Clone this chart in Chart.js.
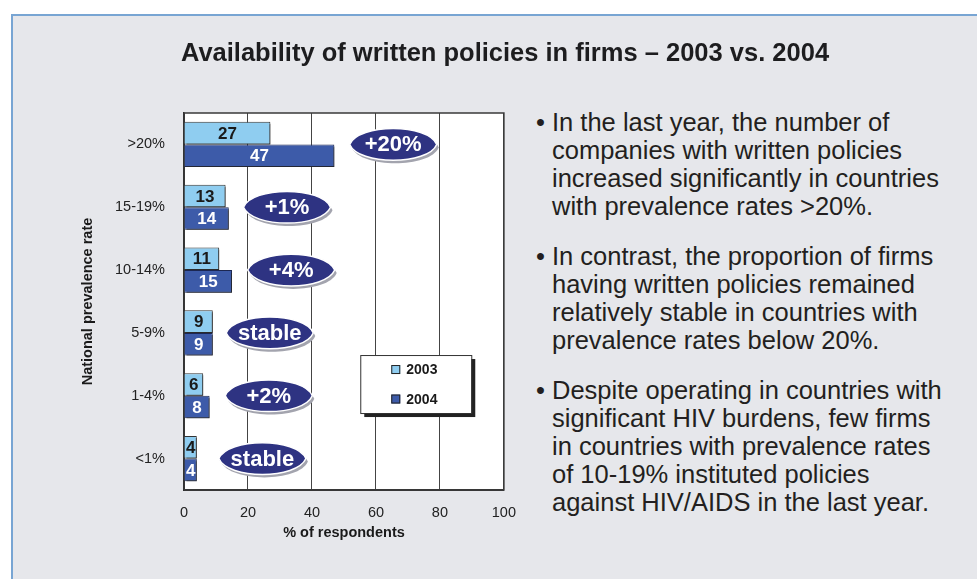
<!DOCTYPE html>
<html>
<head>
<meta charset="utf-8">
<script src="https://cdn.jsdelivr.net/npm/chart.js@4"></script>
<style>
  html, body { margin: 0; padding: 0; background: #fff; }
  body { width: 977px; height: 579px; position: relative; overflow: hidden; font-family: "Liberation Sans", Arial, sans-serif; }
  #panel { position: absolute; left: 11px; top: 14px; right: 0; bottom: 0; background: #e6e7eb; border-left: 2px solid #78a5d3; border-top: 2px solid #78a5d3; }
  #chart { position: absolute; left: 0; top: 0; }
  #title { position: absolute; left: 0; width: 1010px; top: 37px; text-align: center; font-weight: bold; font-size: 25.5px; line-height: 30px; color: #1d1d1f; white-space: nowrap; }
  #notes { position: absolute; left: 552px; top: 108px; font-size: 25.5px; line-height: 28px; color: #231f20; white-space: nowrap; }
  #notes p { margin: 0 0 22px 0; position: relative; }
  #notes p:before { content: "\2022"; position: absolute; left: -16px; }
</style>
</head>
<body>
<div id="panel"></div>
<canvas id="chart" width="530" height="579"></canvas>
<div id="title">Availability of written policies in firms – 2003 vs. 2004</div>
<div id="notes">
  <p>In the last year, the number of<br>companies with written policies<br>increased significantly in countries<br>with prevalence rates &gt;20%.</p>
  <p>In contrast, the proportion of firms<br>having written policies remained<br>relatively stable in countries with<br>prevalence rates below 20%.</p>
  <p>Despite operating in countries with<br>significant HIV burdens, few firms<br>in countries with prevalence rates<br>of 10-19% instituted policies<br>against HIV/AIDS in the last year.</p>
</div>
<script>
const categories = ['>20%', '15-19%', '10-14%', '5-9%', '1-4%', '<1%'];
const values2003 = [27, 13, 11, 9, 6, 4];
const values2004 = [47, 14, 15, 9, 8, 4];
const seriesNames = ['2003', '2004'];
const changeLabels = ['+20%', '+1%', '+4%', 'stable', '+2%', 'stable'];
// where each change bubble sits along the x axis (% units)
const bubbleAt = [65.4, 32.2, 33.5, 26.8, 26.5, 24.5];

const FONT = '"Liberation Sans", Arial, sans-serif';
const colors = { light: '#8fcdf0', dark: '#3d5ba9', navy: '#2e3382' };
Chart.defaults.font.family = FONT;

function lens(ctx, cx, cy, w, h) {
  const l = cx - w / 2, r = cx + w / 2, k = h * 0.68;
  ctx.beginPath();
  ctx.moveTo(l, cy);
  ctx.bezierCurveTo(l + w * 0.1, cy - k, r - w * 0.1, cy - k, r, cy);
  ctx.bezierCurveTo(r - w * 0.1, cy + k, l + w * 0.1, cy + k, l, cy);
  ctx.closePath();
}

const plotFrame = {
  id: 'plotFrame',
  beforeDraw(chart) {
    const { ctx, chartArea: a } = chart;
    ctx.save();
    ctx.fillStyle = '#fff';
    ctx.fillRect(a.left, a.top, a.right - a.left, a.bottom - a.top);
    ctx.restore();
  },
  beforeDatasetsDraw(chart) {
    const { ctx, chartArea: a } = chart;
    ctx.save();
    ctx.strokeStyle = '#3a3a3a';
    ctx.lineWidth = 1.5;
    ctx.strokeRect(a.left, a.top, a.right - a.left, a.bottom - a.top);
    ctx.restore();
  }
};

// small drop shadow under the bars, like the old 3-D office chart
const barShadow = {
  id: 'barShadow',
  beforeDatasetsDraw(chart) {
    const ctx = chart.ctx;
    ctx.save();
    ctx.shadowColor = 'rgba(40,40,40,0.7)';
    ctx.shadowOffsetX = 2;
    ctx.shadowOffsetY = 2;
    ctx.shadowBlur = 0;
  },
  afterDatasetsDraw(chart) {
    chart.ctx.restore();
  }
};

const barLabels = {
  id: 'barLabels',
  afterDatasetsDraw(chart) {
    const { ctx } = chart;
    ctx.save();
    ctx.font = 'bold 17px ' + FONT;
    ctx.textAlign = 'center';
    ctx.textBaseline = 'middle';
    chart.data.datasets.forEach((ds, i) => {
      ctx.fillStyle = i === 0 ? '#1a1a1a' : '#ffffff';
      chart.getDatasetMeta(i).data.forEach((bar, j) => {
        ctx.fillText(String(ds.data[j]), (bar.base + bar.x) / 2, bar.y + 1);
      });
    });
    ctx.restore();
  }
};

const bubbles = {
  id: 'bubbles',
  afterDatasetsDraw(chart) {
    const { ctx, scales } = chart;
    ctx.save();
    changeLabels.forEach((txt, j) => {
      const cx = scales.x.getPixelForValue(bubbleAt[j]);
      const cy = scales.y.getPixelForValue(j);
      lens(ctx, cx + 2, cy + 3, 87, 31);
      ctx.fillStyle = '#a3a4ae';
      ctx.fill();
      lens(ctx, cx, cy, 87, 31);
      ctx.fillStyle = colors.navy;
      ctx.fill();
      ctx.strokeStyle = '#ffffff';
      ctx.lineWidth = 1.5;
      ctx.stroke();
      ctx.font = 'bold 22px ' + FONT;
      ctx.fillStyle = '#fff';
      ctx.textAlign = 'center';
      ctx.textBaseline = 'middle';
      ctx.fillText(txt, cx, cy + 1);
    });
    ctx.restore();
  }
};

const boxLegend = {
  id: 'boxLegend',
  afterDraw(chart) {
    const { ctx, chartArea: a } = chart;
    const w = a.right - a.left, h = a.bottom - a.top;
    const x = a.left + w * 0.551, y = a.top + h * 0.642, bw = 111, bh = 58;
    ctx.save();
    ctx.fillStyle = '#222';
    ctx.fillRect(x + 4, y + 4, bw, bh);
    ctx.fillStyle = '#fff';
    ctx.fillRect(x, y, bw, bh);
    ctx.strokeStyle = '#333';
    ctx.lineWidth = 1;
    ctx.strokeRect(x + 0.5, y + 0.5, bw, bh);
    ctx.font = 'bold 14px ' + FONT;
    ctx.textBaseline = 'middle';
    chart.data.datasets.forEach((ds, i) => {
      const ry = y + 14.5 + i * 29.5;
      ctx.fillStyle = ds.backgroundColor;
      ctx.fillRect(x + 31, ry - 4.5, 9, 9);
      ctx.strokeStyle = '#222';
      ctx.strokeRect(x + 31.5, ry - 4, 8, 8);
      ctx.fillStyle = '#1a1a1a';
      ctx.fillText(ds.label, x + 46, ry + 1);
    });
    ctx.restore();
  }
};

new Chart(document.getElementById('chart'), {
  type: 'bar',
  data: {
    labels: categories,
    datasets: [
      { label: seriesNames[0], data: values2003, backgroundColor: colors.light, borderColor: '#333', borderWidth: 1 },
      { label: seriesNames[1], data: values2004, backgroundColor: colors.dark, borderColor: '#1c2752', borderWidth: 1 }
    ]
  },
  options: {
    indexAxis: 'y',
    responsive: false,
    animation: false,
    categoryPercentage: 0.72,
    barPercentage: 1,
    layout: { padding: { left: 0, top: 113, right: 25, bottom: 0 } },
    plugins: { legend: { display: false }, tooltip: { enabled: false } },
    scales: {
      x: {
        min: 0, max: 100,
        afterFit: s => { s.height = 89; },
        ticks: { stepSize: 20, padding: 14, color: '#222', font: { size: 14.5 } },
        grid: { color: '#444', lineWidth: 1, drawTicks: false },
        border: { display: true, color: '#333', width: 2 },
        title: { display: true, text: '% of respondents', color: '#1a1a1a', font: { size: 14.5, weight: 'bold' }, padding: { top: 0, bottom: 37 } }
      },
      y: {
        afterFit: s => { s.width = 184; },
        ticks: { padding: 19, color: '#222', font: { size: 14.5 } },
        grid: { display: false, drawTicks: false },
        border: { display: true, color: '#222', width: 1.5 },
        title: { display: true, text: 'National prevalence rate', color: '#1a1a1a', font: { size: 14.5, weight: 'bold' }, padding: { top: 79, bottom: 0 } }
      }
    }
  },
  plugins: [plotFrame, barShadow, barLabels, bubbles, boxLegend]
});
</script>
</body>
</html>
